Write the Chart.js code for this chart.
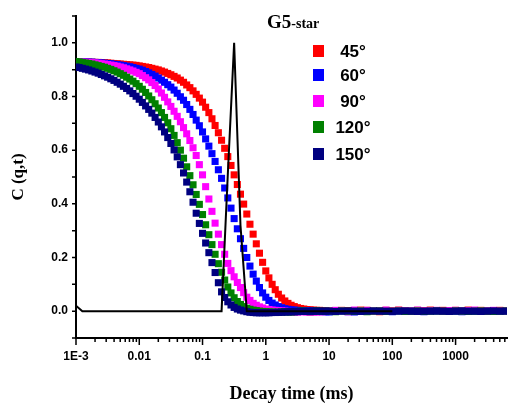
<!DOCTYPE html>
<html>
<head>
<meta charset="utf-8">
<script src="https://cdn.jsdelivr.net/npm/chart.js@4.4.1/dist/chart.umd.min.js"></script>
<style>
  html, body { margin: 0; padding: 0; background: #fff; }
  #wrap { width: 512px; height: 405px; }
</style>
</head>
<body>
<div id="wrap"><canvas id="chart" width="512" height="405"></canvas></div>
<script>
// ---------------- DATA ----------------
// lag times (ms): 20 per decade up to 10 ms, 10 per decade after
const decayTimes = [
  0.001, 0.00112, 0.00126, 0.00141, 0.00158, 0.00178, 0.002, 0.00224, 0.00251, 0.00282,
  0.00316, 0.00355, 0.00398, 0.00447, 0.00501, 0.00562, 0.00631, 0.00708, 0.00794, 0.00891,
  0.01, 0.0112, 0.0126, 0.0141, 0.0158, 0.0178, 0.02, 0.0224, 0.0251, 0.0282,
  0.0316, 0.0355, 0.0398, 0.0447, 0.0501, 0.0562, 0.0631, 0.0708, 0.0794, 0.0891,
  0.1, 0.112, 0.126, 0.141, 0.158, 0.178, 0.2, 0.224, 0.251, 0.282,
  0.316, 0.355, 0.398, 0.447, 0.501, 0.562, 0.631, 0.708, 0.794, 0.891,
  1, 1.12, 1.26, 1.41, 1.58, 1.78, 2, 2.24, 2.51, 2.82,
  3.16, 3.55, 3.98, 4.47, 5.01, 5.62, 6.31, 7.08, 7.94, 8.91,
  10,
  12.6, 15.8, 20, 25.1, 31.6, 39.8, 50.1, 63.1, 79.4,
  100, 126, 158, 200, 251, 316, 398, 501, 631, 794,
  1000, 1260, 1580, 2000, 2510, 3160, 3980, 5010, 6310
];

const c45 = [
  0.930, 0.930, 0.929, 0.929, 0.928, 0.928, 0.927, 0.927, 0.926, 0.926,
  0.925, 0.924, 0.923, 0.922, 0.921, 0.920, 0.919, 0.918, 0.917, 0.916,
  0.914, 0.912, 0.910, 0.908, 0.905, 0.902, 0.899, 0.895, 0.891, 0.886,
  0.881, 0.875, 0.869, 0.861, 0.853, 0.843, 0.833, 0.821, 0.808, 0.794,
  0.779, 0.760, 0.740, 0.717, 0.692, 0.665, 0.637, 0.607, 0.576, 0.543,
  0.508, 0.472, 0.436, 0.399, 0.362, 0.324, 0.287, 0.251, 0.216, 0.182,
  0.150, 0.124, 0.100, 0.080, 0.063, 0.049, 0.038, 0.029, 0.022, 0.017,
  0.013, 0.010, 0.008, 0.006, 0.005, 0.004, 0.003, 0.003, 0.002, 0.002,
  0.001,
  0.000, 0.003, 0.002, -0.001, 0.004, 0.003, 0.000, -0.002, 0.003,
  0.002, 0.004, 0.001, -0.001, 0.003, 0.002, 0.004, 0.001, 0.003, 0.002,
  0.003, 0.001, 0.004, 0.002, 0.003, 0.000, 0.002, 0.003, 0.001
];

const c60 = [
  0.930, 0.930, 0.929, 0.929, 0.928, 0.928, 0.927, 0.926, 0.925, 0.924,
  0.923, 0.922, 0.920, 0.919, 0.917, 0.915, 0.913, 0.911, 0.908, 0.905,
  0.902, 0.898, 0.893, 0.888, 0.882, 0.876, 0.869, 0.861, 0.853, 0.844,
  0.835, 0.824, 0.812, 0.799, 0.786, 0.770, 0.752, 0.733, 0.712, 0.691,
  0.668, 0.642, 0.615, 0.587, 0.558, 0.527, 0.495, 0.459, 0.422, 0.384,
  0.345, 0.307, 0.270, 0.234, 0.200, 0.168, 0.138, 0.112, 0.088, 0.068,
  0.052, 0.040, 0.030, 0.023, 0.017, 0.013, 0.009, 0.007, 0.005, 0.004,
  0.003, 0.002, 0.002, 0.001, 0.001, 0.000, 0.000, -0.001, -0.002, -0.002,
  -0.003,
  -0.001, 0.001, -0.002, -0.003, 0.000, 0.002, -0.001, 0.001, 0.000,
  -0.002, 0.001, -0.001, 0.000, 0.002, -0.002, 0.001, 0.000, -0.001, 0.001,
  0.000, -0.002, 0.001, 0.000, -0.001, 0.002, 0.000, -0.001, 0.001
];

const c90 = [
  0.930, 0.929, 0.928, 0.928, 0.927, 0.926, 0.925, 0.924, 0.922, 0.921,
  0.919, 0.917, 0.915, 0.913, 0.910, 0.907, 0.903, 0.899, 0.895, 0.890,
  0.885, 0.878, 0.870, 0.862, 0.852, 0.841, 0.828, 0.813, 0.797, 0.780,
  0.763, 0.745, 0.726, 0.706, 0.684, 0.661, 0.636, 0.609, 0.580, 0.546,
  0.508, 0.464, 0.418, 0.372, 0.328, 0.287, 0.248, 0.212, 0.178, 0.151,
  0.128, 0.107, 0.088, 0.069, 0.052, 0.040, 0.029, 0.022, 0.016, 0.012,
  0.008, 0.006, 0.004, 0.003, 0.002, 0.001, 0.000, -0.001, -0.002, -0.003,
  -0.003, -0.002, -0.002, -0.003, -0.004, -0.003, -0.003, -0.002, -0.002, -0.001,
  0.001,
  0.003, 0.002, -0.002, 0.004, 0.002, 0.003, -0.001, 0.002, 0.004,
  0.001, 0.003, 0.000, 0.002, 0.004, 0.001, 0.002, 0.003, 0.000, 0.002,
  0.003, 0.001, 0.002, 0.004, 0.001, 0.002, 0.003, 0.001, 0.002
];

const c120 = [
  0.930, 0.929, 0.927, 0.925, 0.923, 0.921, 0.918, 0.915, 0.912, 0.909,
  0.905, 0.901, 0.896, 0.891, 0.885, 0.879, 0.872, 0.865, 0.857, 0.848,
  0.838, 0.827, 0.815, 0.802, 0.788, 0.773, 0.757, 0.740, 0.722, 0.702,
  0.680, 0.655, 0.628, 0.600, 0.570, 0.538, 0.505, 0.471, 0.435, 0.398,
  0.360, 0.322, 0.285, 0.248, 0.212, 0.177, 0.145, 0.116, 0.090, 0.068,
  0.050, 0.036, 0.025, 0.017, 0.011, 0.007, 0.004, 0.002, 0.000, -0.001,
  -0.002, -0.003, -0.003, -0.004, -0.004, -0.003, -0.002, -0.003, -0.003, -0.002,
  -0.001, 0.000, 0.000, -0.001, -0.002, -0.001, 0.001, 0.000, -0.001, 0.000,
  0.000,
  -0.002, 0.001, 0.000, -0.001, 0.001, -0.002, 0.000, 0.001, -0.001,
  0.000, 0.001, -0.001, 0.000, 0.001, -0.001, 0.000, 0.001, 0.000, -0.001,
  0.001, 0.000, -0.001, 0.000, 0.001, 0.000, -0.001, 0.000, 0.001
];

const c150 = [
  0.910, 0.908, 0.905, 0.902, 0.899, 0.895, 0.891, 0.887, 0.882, 0.877,
  0.872, 0.866, 0.860, 0.853, 0.846, 0.838, 0.830, 0.821, 0.811, 0.801,
  0.790, 0.778, 0.765, 0.752, 0.738, 0.722, 0.705, 0.687, 0.668, 0.647,
  0.625, 0.601, 0.575, 0.546, 0.515, 0.481, 0.445, 0.406, 0.365, 0.327,
  0.290, 0.254, 0.218, 0.181, 0.144, 0.106, 0.072, 0.051, 0.035, 0.023,
  0.014, 0.008, 0.004, 0.001, -0.002, -0.004, -0.005, -0.006, -0.006, -0.006,
  -0.006, -0.006, -0.005, -0.005, -0.004, -0.004, -0.003, -0.003, -0.002, -0.002,
  -0.002, -0.001, -0.001, -0.001, -0.001, 0.000, 0.000, 0.000, 0.000, 0.000,
  0.000,
  -0.001, 0.000, 0.001, 0.000, -0.001, 0.000, 0.001, 0.000, 0.000,
  -0.001, 0.000, 0.001, 0.000, -0.001, 0.000, 0.000, 0.001, 0.000, -0.001,
  0.000, 0.001, 0.000, 0.000, -0.001, 0.000, 0.001, 0.000, 0.000
];

// size distribution (black line)
const distTimes = [0.001, 0.00126, 0.01, 0.1, 0.2, 0.251, 0.316, 0.398, 0.501, 1, 10, 100];
const distValues = [0.02, 0, 0, 0, 0, 0.51, 1.0, 0.32, 0, 0, 0, 0];

const angleLabels = ['45°', '60°', '90°', '120°', '150°'];
const angleColors = ['#ff0000', '#0000ff', '#ff00ff', '#008000', '#000080'];
const angleSeries = [c45, c60, c90, c120, c150];

const xTickValues = [0.001, 0.01, 0.1, 1, 10, 100, 1000];
const xTickLabels = ['1E-3', '0.01', '0.1', '1', '10', '100', '1000'];
const yTickValues = [0, 0.2, 0.4, 0.6, 0.8, 1.0];
const yTickLabels = ['0.0', '0.2', '0.4', '0.6', '0.8', '1.0'];

const SANS = '"Liberation Sans", Arial, sans-serif';
const SERIF = '"Liberation Serif", "Times New Roman", serif';

// ---------------- TICKS + LEGEND ----------------
const axisDecor = {
  id: 'axisDecor',
  afterDraw(chart) {
    const { ctx, chartArea: a, scales: { x, y } } = chart;
    ctx.save();
    ctx.strokeStyle = '#000';
    ctx.lineWidth = 1.5;
    ctx.beginPath();
    // log minor/major ticks on x
    for (let e = -3; e <= 3; e++) {
      for (let k = 1; k <= 9; k++) {
        const px = x.getPixelForValue(k * Math.pow(10, e));
        if (px > a.right + 0.5) continue;
        const len = k === 1 ? 7 : 4;
        ctx.moveTo(px, a.bottom);
        ctx.lineTo(px, a.bottom + len);
      }
    }
    // y ticks every 0.1
    for (let i = -1; i <= 11; i++) {
      const py = y.getPixelForValue(i / 10);
      ctx.moveTo(a.left, py);
      ctx.lineTo(a.left - 4, py);
    }
    ctx.stroke();

    // title "G5-star"
    ctx.fillStyle = '#000';
    ctx.textAlign = 'left';
    ctx.textBaseline = 'alphabetic';
    ctx.font = `bold 19px ${SERIF}`;
    ctx.fillText('G5', 267, 28);
    const w = ctx.measureText('G5').width;
    ctx.font = `bold 14px ${SERIF}`;
    ctx.fillText('-star', 267 + w, 28);

    // legend
    const rows = [51, 75, 101, 127, 154];
    ctx.font = `bold 17px ${SANS}`;
    ctx.textAlign = 'center';
    ctx.textBaseline = 'middle';
    angleLabels.forEach((lab, i) => {
      ctx.fillStyle = angleColors[i];
      ctx.fillRect(313, rows[i] - 6, 11, 12);
      ctx.fillStyle = '#000';
      ctx.fillText(lab, 353, rows[i] + 1);
    });
    ctx.restore();
  }
};

// ---------------- CHART ----------------
const datasets = [{
  label: 'distribution',
  data: distTimes.map((t, i) => ({ x: t, y: distValues[i] })),
  showLine: true,
  borderColor: '#000',
  borderWidth: 2,
  pointRadius: 0,
  order: 0,
  clip: 0
}];

angleSeries.forEach((s, i) => {
  datasets.push({
    label: angleLabels[i],
    data: decayTimes.map((t, j) => ({ x: t, y: s[j] })),
    showLine: false,
    pointStyle: 'rect',
    pointRadius: 5,
    pointBorderWidth: 0,
    pointBackgroundColor: angleColors[i],
    borderColor: angleColors[i],
    backgroundColor: angleColors[i],
    order: 5 - i,
    clip: 0
  });
});

new Chart(document.getElementById('chart').getContext('2d'), {
  type: 'scatter',
  data: { datasets },
  options: {
    responsive: false,
    devicePixelRatio: 1,
    animation: false,
    events: [],
    layout: { padding: { top: 16, right: 0, left: 0, bottom: 0 } },
    plugins: {
      legend: { display: false },
      tooltip: { enabled: false },
      title: { display: false }
    },
    scales: {
      x: {
        type: 'logarithmic',
        min: 0.001,
        max: 6500,
        grid: { display: false, drawTicks: false },
        border: { display: true, color: '#000', width: 2 },
        afterBuildTicks: s => { s.ticks = xTickValues.map(v => ({ value: v })); },
        afterFit: s => { s.height = 67; },
        ticks: {
          autoSkip: false,
          maxRotation: 0,
          padding: 11,
          color: '#000',
          font: { family: SANS, weight: 'bold', size: 12 },
          callback: (v, i) => xTickLabels[i]
        },
        title: {
          display: true,
          text: 'Decay time (ms)',
          color: '#000',
          font: { family: SERIF, weight: 'bold', size: 18 },
          padding: { top: 0, bottom: 0 }
        }
      },
      y: {
        min: -0.1,
        max: 1.1,
        grid: { display: false, drawTicks: false },
        border: { display: true, color: '#000', width: 2 },
        afterBuildTicks: s => { s.ticks = yTickValues.map(v => ({ value: v })); },
        afterFit: s => { s.width = 76; },
        ticks: {
          autoSkip: false,
          padding: 8,
          color: '#000',
          font: { family: SANS, weight: 'bold', size: 12 },
          callback: (v, i) => yTickLabels[i]
        },
        title: {
          display: true,
          text: 'C (q,t)',
          color: '#000',
          font: { family: SERIF, weight: 'bold', size: 17 },
          padding: { top: 8, bottom: 0 }
        }
      }
    }
  },
  plugins: [axisDecor]
});
</script>
</body>
</html>
